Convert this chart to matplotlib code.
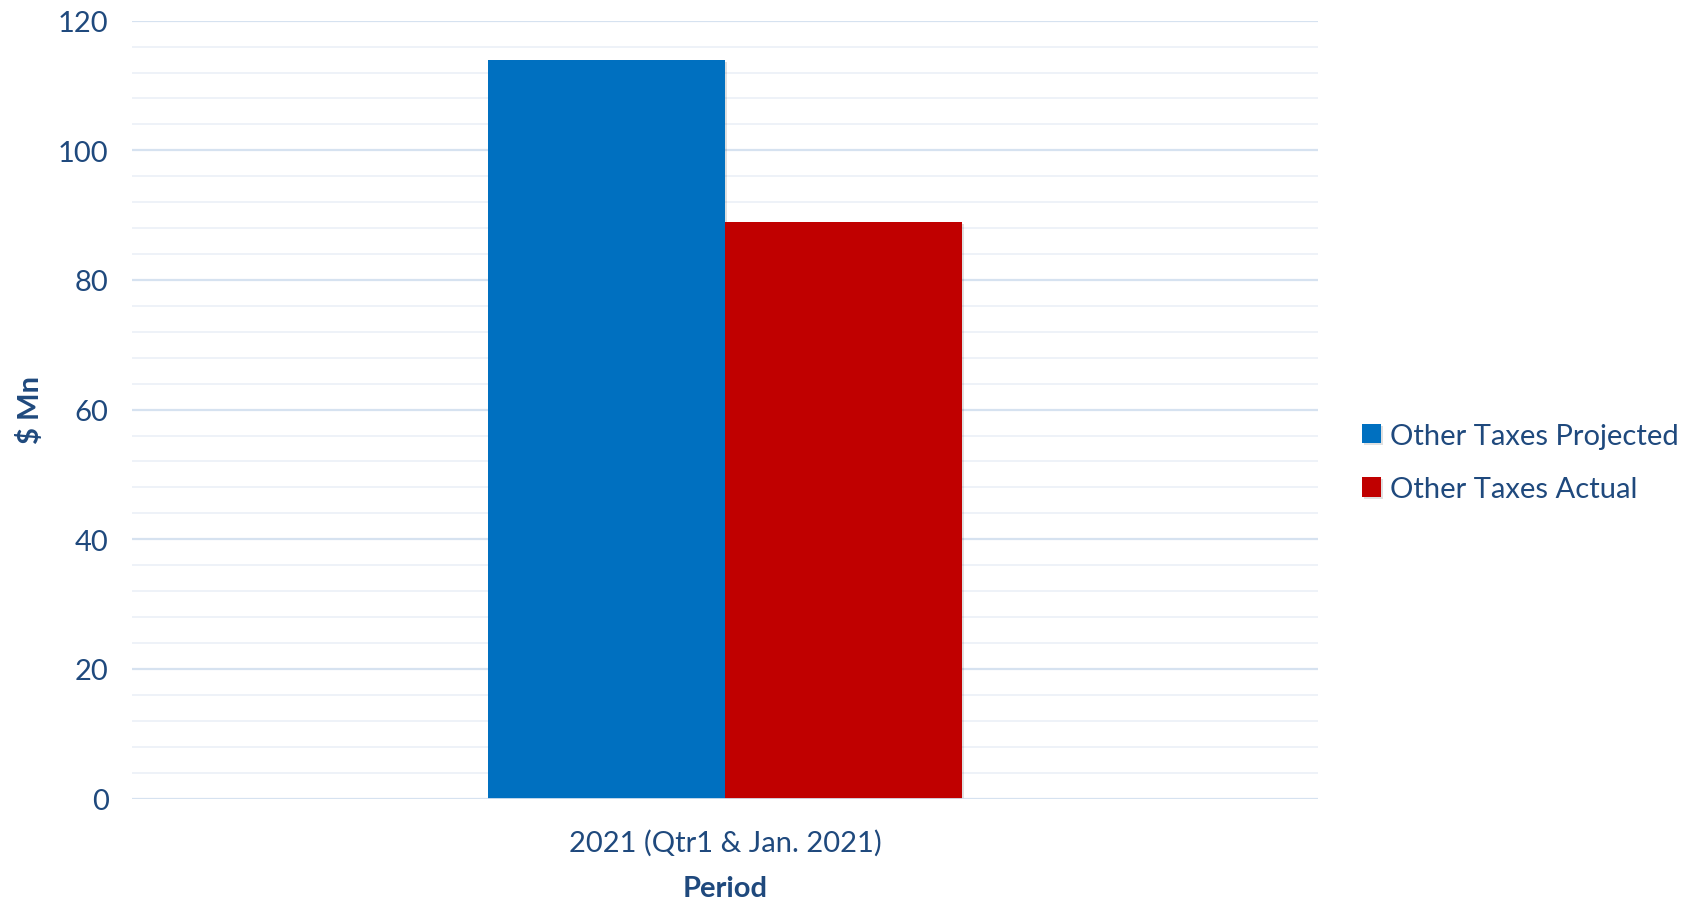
import matplotlib
matplotlib.use("Agg")
import matplotlib.pyplot as plt
import matplotlib.patheffects as pe
from matplotlib.ticker import MultipleLocator

categories = ["2021 (Qtr1 & Jan. 2021)"]
series_names = ["Other Taxes Projected", "Other Taxes Actual"]
projected = [114]
actual = [89]
colors = ["#0070c0", "#c00000"]
text_color = "#1f497d"

plt.rcParams["font.family"] = ["Lato", "DejaVu Sans"]

fig = plt.figure(figsize=(16.94, 9.03), dpi=100)
ax = fig.add_axes([0.078, 0.1146, 0.700, 0.8614])

width = 0.2
x = list(range(len(categories)))
shadow = [pe.SimplePatchShadow(offset=(1.5, -1.5), shadow_rgbFace="#000000", alpha=0.12), pe.Normal()]
for i, (vals, name) in enumerate(zip([projected, actual], series_names)):
    offs = [xi + (i - 0.5) * width for xi in x]
    bars = ax.bar(offs, vals, width=width, color=colors[i], label=name, zorder=3)
    for b in bars:
        b.set_path_effects(shadow)

ax.set_xlim(-0.5, len(categories) - 0.5)
ax.set_ylim(0, 120)
ax.yaxis.set_major_locator(MultipleLocator(20))
ax.yaxis.set_minor_locator(MultipleLocator(4))
ax.grid(axis="y", which="major", color="#d6e2f0", lw=1.6, zorder=0)
ax.grid(axis="y", which="minor", color="#eef2f8", lw=1.4, zorder=0)
for s in ax.spines.values():
    s.set_visible(False)
ax.axhline(0, color="#d6e2f0", lw=2, zorder=4)

ax.set_xticks(x)
ax.set_xticklabels(categories)
ax.tick_params(axis="both", which="both", length=0, labelsize=21, colors=text_color)
ax.tick_params(axis="y", pad=17)
ax.tick_params(axis="x", pad=22)
ax.set_xlabel("Period", fontsize=21, fontweight="bold", color=text_color, labelpad=14)
fig.text(0.018, 0.546, "$ Mn", rotation=90, ha="center", va="center",
         fontsize=21, fontweight="bold", color=text_color)

leg = ax.legend(loc="center left", bbox_to_anchor=(1.015, 0.432), frameon=False,
                fontsize=21, handlelength=0.65, handleheight=0.65, handletextpad=0.3,
                labelspacing=0.95, labelcolor=text_color)

fig.savefig("out.png", dpi=100)
